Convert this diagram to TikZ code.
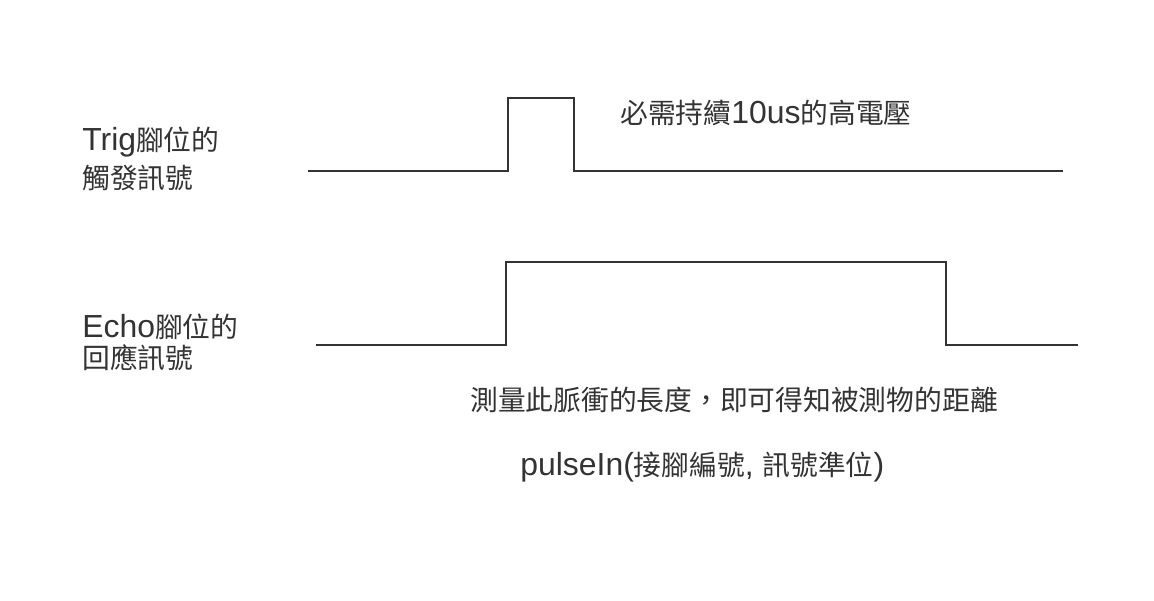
\documentclass[tikz,border=0pt]{standalone}
\usepackage{fontspec}
\setmainfont{Noto Sans CJK TC}
\newfontfamily\latinfont[Scale=1.15]{Liberation Sans}
\definecolor{wavegray}{RGB}{51, 51, 51}
\usetikzlibrary{positioning, calc}
\tikzset{
    label/.style={anchor=west, font=\fontsize{15.8}{18}\selectfont, text=wavegray,
                  inner sep=0pt, align=left},
    wave/.style={draw=wavegray, line width=1.1pt, line join=miter},
}
\newcommand{\lat}[1]{{\latinfont #1}}
\begin{document}
\begin{tikzpicture}[x=0.02cm, y=-0.02cm]
            \useasboundingbox (0, 0) rectangle (1154, 600);
            % Trig
            \coordinate (t0) at (308, 171);
            \coordinate (t1) at (508, 171);
            \coordinate (t2) at (508, 98);
            \coordinate (t3) at (574, 98);
            \coordinate (t4) at (574, 171);
            \coordinate (t5) at (1063, 171);
            \draw[wave] (t0) -- (t1) -- (t2) -- (t3) -- (t4) -- (t5);
            % Echo
            \coordinate (e0) at (316, 345);
            \coordinate (e1) at (506, 345);
            \coordinate (e2) at (506, 262);
            \coordinate (e3) at (946, 262);
            \coordinate (e4) at (946, 345);
            \coordinate (e5) at (1078, 345);
            \draw[wave] (e0) -- (e1) -- (e2) -- (e3) -- (e4) -- (e5);
            
            \node[label] (trig1) at (82, 142) {\lat{Trig}腳位的};
            \node[label] (trig2) at (82, 178) {觸發訊號};
            \node[label] (high) at (620, 113) {必需持續\lat{10us}的高電壓};
            \node[label] (echo1) at (82, 327) {\lat{Echo}腳位的};
            \node[label] (echo2) at (82, 358) {回應訊號};
            \node[label] (meas) at (470, 400) {測量此脈衝的長度，即可得知被測物的距離};
            \node[label] (pulse) at (520, 467) {\lat{pulseIn(}接腳編號\lat{, }訊號準位\lat{)}};
        \end{tikzpicture}
\end{document}
